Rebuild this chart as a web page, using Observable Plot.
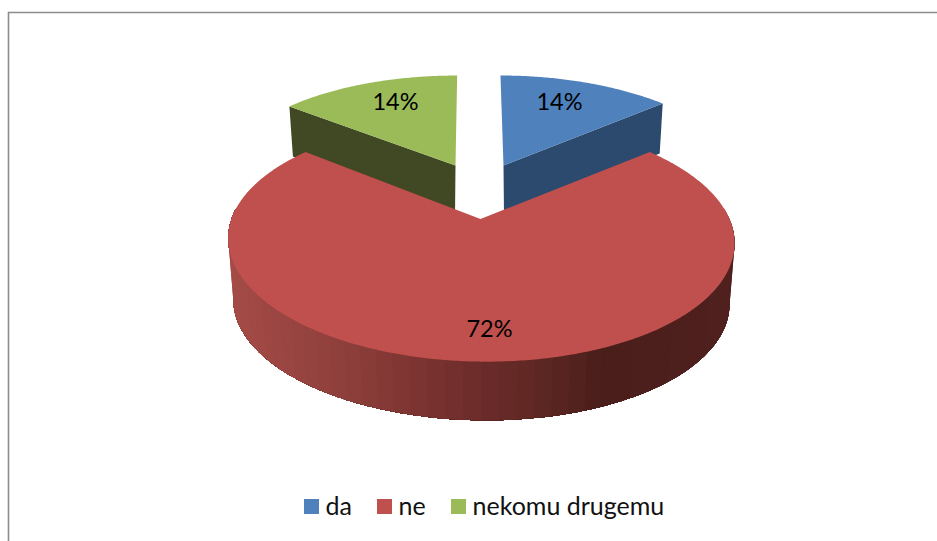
<!DOCTYPE html>
<html>
<head>
<meta charset="utf-8">
<script src="https://cdn.jsdelivr.net/npm/d3@7"></script>
<script src="https://cdn.jsdelivr.net/npm/@observablehq/plot@0.6"></script>
<style>html,body{margin:0;padding:0;background:#fff;overflow:hidden}svg{display:block}</style>
</head>
<body>
<div id="chart"></div>
<script>
const categories = ["da", "ne", "nekomu drugemu"];
const shares = [14, 72, 14];
const colors = ["#4f81bd", "#c0504d", "#9bbb59"];
const sideColors = ["#2b4a6e", null, "#404923"];

// Slice angles follow the values, clockwise from the back of the pie.
const stops = d3.cumsum(shares).map(v => v / 100 * 2 * Math.PI);
const spans = shares.map((_, i) => [i ? stops[i - 1] : 0, stops[i]]);

// Per-slice perspective view of the tilted, exploded disc.
const views = [
  {cx: 503, cy: 165, R: 244, A: 113.4, k: 0.26, s: 3.8, dx0: 0.5, dx1: -3, depth: 50},
  {cx: 480, cy: 218.5, R: 249, A: 117, k: 0.18, s: 5, f: 0.98, depth: 61.5},
  {cx: 455, cy: 165, R: 229, A: 97.8, k: 0.087, s: -1.8, dx0: -0.5, dx1: 3.5, depth: 50}
];
const project = (view, theta, f = 1, dy = 0) => {
  const u = Math.sin(theta), v = -Math.cos(theta), w = 1 - view.k * v;
  return {
    x: view.cx + f * (view.R * u + view.s * v) / w,
    y: view.cy + dy + f * view.A * v / w
  };
};
const arcAngles = ([a, b], step = 0.01) => d3.range(a, b, step).concat(b);

const tops = shares.flatMap((_, i) => {
  const view = views[i];
  const pts = arcAngles(spans[i]).map(t => project(view, t));
  return [{x: view.cx, y: view.cy}, ...pts, {x: view.cx, y: view.cy}]
    .map(p => ({...p, slice: categories[i], color: colors[i]}));
});

// Radial faces visible behind the red slice.
const faces = [[0, spans[0][1]], [2, spans[2][0]]].flatMap(([i, theta]) => {
  const view = views[i], corner = project(view, theta), apex = {x: view.cx, y: view.cy};
  return [
    apex, corner,
    {x: corner.x + view.dx1, y: corner.y + view.depth},
    {x: apex.x + view.dx0, y: apex.y + view.depth},
    apex
  ].map(p => ({...p, slice: categories[i], color: sideColors[i]}));
});

// Outer wall of the red slice, shaded in bands; each band runs on under the next.
const wallShade = d3.scaleLinear()
  .domain([230, 353, 453, 553, 603, 730])
  .range(["#a44b47", "#8c3e3a", "#722f2d", "#5a2521", "#4a1e1b", "#4f201e"])
  .clamp(true);
const redView = views[1];
const wallEnd = spans[1][1] - 0.6;
const wallStarts = d3.range(spans[1][0] + 0.6, wallEnd, 0.06);
const wall = wallStarts.flatMap((a, j) => {
  const run = arcAngles([a, wallEnd], 0.02);
  const upper = run.map(t => project(redView, t));
  const lower = run.map(t => project(redView, t, redView.f, redView.depth)).reverse();
  const mid = project(redView, a + 0.03);
  const color = wallShade(mid.x);
  return [...upper, ...lower, upper[0]].map(q => ({...q, strip: j, color}));
});

const labelPoints = [
  {x: 559, y: 102, text: shares[0] + "%"},
  {x: 489, y: 329, text: shares[1] + "%"},
  {x: 395, y: 102, text: shares[2] + "%"}
];
const legendX = [304, 377, 451];
const legendRows = categories.map((name, i) => ({name, x: legendX[i], color: colors[i]}));

const chart = Plot.plot({
  width: 937,
  height: 541,
  margin: 0,
  style: {background: "#fff"},
  x: {axis: null, domain: [0, 937], range: [0, 937]},
  y: {axis: null, domain: [0, 541], range: [0, 541]},
  color: {type: "identity"},
  marks: [
    Plot.ruleX([8], {y1: 12, y2: 541, stroke: "#8c8c8c", strokeWidth: 1.6}),
    Plot.ruleY([12], {x1: 8, x2: 937, stroke: "#8c8c8c", strokeWidth: 1.6}),
    Plot.line(faces, {x: "x", y: "y", z: "slice", fill: "color", stroke: "none"}),
    Plot.line(wall, {x: "x", y: "y", z: "strip", fill: "color", stroke: "none"}),
    Plot.line(tops, {x: "x", y: "y", z: "slice", fill: "color", stroke: "none"}),
    Plot.text(labelPoints, {
      x: "x", y: "y", text: "text", fill: "#000",
      fontFamily: "Lato", fontSize: 23.5, textAnchor: "middle", lineAnchor: "middle"
    }),
    Plot.rect(legendRows, {
      x1: "x", x2: d => d.x + 15, y1: () => 499, y2: () => 514, fill: "color"
    }),
    Plot.text(legendRows, {
      x: d => d.x + 21, y: () => 506, text: "name", fill: "#111",
      fontFamily: "Lato", fontSize: 25, textAnchor: "start", lineAnchor: "middle"
    })
  ]
});
document.getElementById("chart").append(chart);
</script>
</body>
</html>
